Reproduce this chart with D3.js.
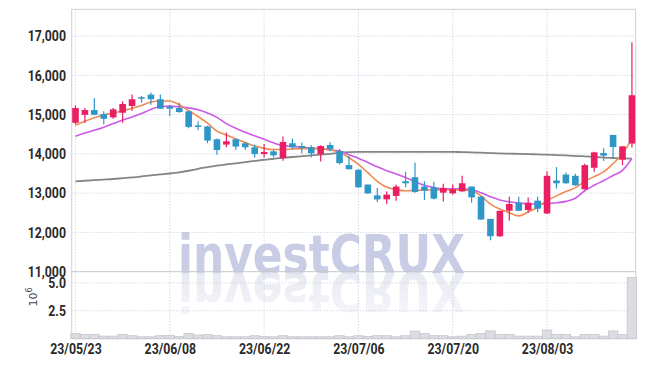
<!DOCTYPE html>
<html>
<head>
<meta charset="utf-8">
<script src="https://cdn.jsdelivr.net/npm/d3@7"></script>
<style>
  body { margin: 0; background: #fff; }
  svg text { font-family: Roboto, "DejaVu Sans", sans-serif; }
</style>
</head>
<body>
<div id="chart_div"></div>
<script>
// trading days (yy/mm/dd)
var dates = ['23/05/23','23/05/24','23/05/25','23/05/26','23/05/30','23/05/31','23/06/01','23/06/02','23/06/05','23/06/07',
             '23/06/08','23/06/09','23/06/12','23/06/13','23/06/14','23/06/15','23/06/16','23/06/19','23/06/20','23/06/21',
             '23/06/22','23/06/23','23/06/26','23/06/27','23/06/28','23/06/29','23/06/30','23/07/03','23/07/04','23/07/05',
             '23/07/06','23/07/07','23/07/10','23/07/11','23/07/12','23/07/13','23/07/14','23/07/17','23/07/18','23/07/19',
             '23/07/20','23/07/21','23/07/24','23/07/25','23/07/26','23/07/27','23/07/28','23/07/31','23/08/01','23/08/02',
             '23/08/03','23/08/04','23/08/07','23/08/08','23/08/09','23/08/10','23/08/11','23/08/14','23/08/16','23/08/17'];

var opens  = [14790,14995,15115,15013,14928,15046,15218,15441,15508,15390,
              15200,15167,15082,14723,14697,14372,14236,14372,14269,14167,
              13995,14064,13892,14269,14200,14167,13995,14226,14072,13713,
              13595,13218,12944,12841,12928,13303,13405,13167,13149,13013,
              12995,13046,13167,12910,12346,11903,12551,12757,12569,12808,
              12482,13321,13474,13441,13097,13646,14021,14482,13851,14262];
var highs  = [15236,15167,15423,15082,15167,15338,15508,15474,15559,15508,
              15251,15302,15097,14826,14718,14390,14544,14406,14303,14236,
              14251,14115,14441,14390,14287,14218,14218,14295,14123,13954,
              13610,13218,13133,13046,13218,13544,13782,13303,13287,13236,
              13218,13441,13167,12923,12346,12551,12910,12910,12892,12910,
              13559,13662,13526,13492,13749,14056,14141,14482,14192,16841];
var lows   = [14756,14790,14980,14756,14892,14790,15097,15302,15251,15149,
              14962,15046,14654,14603,14269,13980,14167,14097,14097,13910,
              13910,13910,13826,14115,14013,13910,13808,14064,13730,13603,
              13133,12980,12774,12723,12808,13149,13013,12826,12840,12790,
              12962,13031,12756,12320,11800,11885,12295,12551,12500,12518,
              12470,13115,13240,13190,13090,13544,13815,13885,13713,14159];
var closes = [15167,15115,14995,14892,15133,15269,15390,15405,15390,15149,
              15149,15064,14687,14687,14338,14097,14320,14185,14167,13995,
              14046,13962,14303,14167,14149,14013,14200,14115,13764,13610,
              13149,12995,12841,12962,13167,13251,13031,13064,12859,13133,
              13097,13251,12892,12328,11903,12551,12723,12551,12757,12603,
              13441,13251,13251,13200,13713,14038,13954,14174,14192,15492];
// volume in shares
var volumes = [0.47e6,0.37e6,0.37e6,0.23e6,0.23e6,0.37e6,0.27e6,0.17e6,0.17e6,0.27e6,
               0.30e6,0.20e6,0.47e6,0.33e6,0.37e6,0.27e6,0.17e6,0.17e6,0.17e6,0.27e6,
               0.20e6,0.17e6,0.27e6,0.17e6,0.17e6,0.17e6,0.17e6,0.17e6,0.27e6,0.17e6,
               0.27e6,0.20e6,0.27e6,0.27e6,0.17e6,0.27e6,0.68e6,0.47e6,0.27e6,0.27e6,
               0.17e6,0.23e6,0.37e6,0.47e6,0.70e6,0.37e6,0.37e6,0.23e6,0.23e6,0.23e6,
               0.78e6,0.37e6,0.37e6,0.17e6,0.37e6,0.37e6,0.23e6,0.70e6,0.37e6,5.48e6];

// moving averages as drawn
var ma5   = [14730,14830,14920,14990,15040,15100,15160,15230,15320,15346,
             15346,15250,15100,14950,14780,14580,14480,14380,14290,14200,
             14140,14110,14110,14125,14133,14133,14133,14100,14040,13900,
             13730,13520,13300,13150,13090,13060,13070,13080,13082,13082,
             13082,13082,13060,12930,12720,12595,12500,12420,12520,12640,
             12808,12930,13040,13140,13300,13420,13540,13750,14005,14390];
var ma20  = [14450,14530,14600,14680,14770,14860,14940,15030,15130,15205,
             15215,15200,15170,15125,15040,14930,14770,14650,14550,14460,
             14370,14280,14210,14190,14170,14150,14130,14100,14072,13980,
             13890,13780,13670,13570,13490,13400,13290,13200,13140,13108,
             13108,13108,13090,13010,12910,12826,12780,12745,12730,12723,
             12735,12755,12790,12870,13060,13200,13320,13450,13580,13880];
var ma120 = [13300,13315,13330,13345,13360,13380,13400,13425,13450,13475,
             13500,13530,13570,13620,13660,13700,13730,13760,13790,13820,
             13850,13875,13900,13920,13940,13960,13980,14000,14030,14045,
             14050,14050,14050,14050,14050,14050,14050,14050,14050,14050,
             14050,14045,14040,14030,14020,14010,14005,14000,13995,13985,
             13980,13970,13960,13950,13935,13920,13905,13895,13885,13880];

var priceTicks  = [11000,12000,13000,14000,15000,16000,17000];
var volumeTicks = [2.5e6,5e6];
var dateTicks   = ['23/05/23','23/06/08','23/06/22','23/07/06','23/07/20','23/08/03'];

var width = 645, height = 366;
var plotLeft = 71.7, plotRight = 635.7, plotTop = 9.3, priceBottom = 271.7, volBottom = 338.7;
var upColor = '#e91e63', downColor = '#2f96c8';
var gridColor = '#c3c7dc';

var svg = d3.select('#chart_div')
        .append('svg')
        .attr('id', 'main_svg')
        .attr('width', width)
        .attr('height', height);

var x = d3.scalePoint().domain(dates).range([plotLeft, plotRight]).padding(0.4);
var step = x.step();
var y = d3.scaleLinear().domain([11000, 17680]).range([priceBottom, plotTop]);
var yv = d3.scaleLinear().domain([0, 6e6]).range([volBottom, priceBottom]);

var defs = svg.append('defs');
var grad = defs.append('linearGradient')
        .attr('id', 'reflect')
        .attr('x1', 0).attr('y1', 0).attr('x2', 0).attr('y2', 1);
grad.append('stop').attr('offset', '0%').attr('stop-color', '#e3e5ef').attr('stop-opacity', 0.25);
grad.append('stop').attr('offset', '100%').attr('stop-color', '#e3e5ef').attr('stop-opacity', 1);

// watermark + reflection
svg.append('text')
        .attr('x', 178).attr('y', priceBottom + 1)
        .attr('textLength', 287).attr('lengthAdjust', 'spacingAndGlyphs')
        .style('font-family', '"DejaVu Sans", sans-serif')
        .style('font-weight', 'bold')
        .style('font-size', '54px')
        .style('fill', '#c8cde5')
        .text('investCRUX');
svg.append('text')
        .attr('x', 178).attr('y', priceBottom + 1)
        .attr('textLength', 287).attr('lengthAdjust', 'spacingAndGlyphs')
        .attr('transform', 'translate(0,' + (2 * (priceBottom + 1)) + ') scale(1,-1)')
        .style('font-family', '"DejaVu Sans", sans-serif')
        .style('font-weight', 'bold')
        .style('font-size', '54px')
        .style('fill', 'url(#reflect)')
        .text('investCRUX');

// grid
svg.append('g').selectAll('line')
        .data(priceTicks.slice(1))
        .enter().append('line')
        .attr('x1', plotLeft).attr('x2', plotRight)
        .attr('y1', function(d) { return y(d); })
        .attr('y2', function(d) { return y(d); })
        .style('stroke', gridColor)
        .style('stroke-dasharray', '1,2');
svg.append('g').selectAll('line')
        .data(volumeTicks)
        .enter().append('line')
        .attr('x1', plotLeft).attr('x2', plotRight)
        .attr('y1', function(d) { return yv(d); })
        .attr('y2', function(d) { return yv(d); })
        .style('stroke', gridColor)
        .style('stroke-dasharray', '1,2');
svg.append('g').selectAll('line')
        .data(dateTicks)
        .enter().append('line')
        .attr('x1', function(d) { return x(d); })
        .attr('x2', function(d) { return x(d); })
        .attr('y1', plotTop).attr('y2', volBottom)
        .style('stroke', gridColor)
        .style('stroke-dasharray', '1,2');

// frame
svg.append('rect')
        .attr('x', plotLeft).attr('y', plotTop)
        .attr('width', plotRight - plotLeft).attr('height', volBottom - plotTop)
        .style('fill', 'none')
        .style('stroke', '#d0d0d4');
svg.append('line')
        .attr('x1', plotLeft).attr('x2', plotRight)
        .attr('y1', priceBottom).attr('y2', priceBottom)
        .style('stroke', '#c8c8cc');

// volume bars
svg.append('g').selectAll('rect')
        .data(dates)
        .enter().append('rect')
        .attr('x', function(d) { return x(d) - step / 2; })
        .attr('width', step)
        .attr('y', function(d, i) { return yv(volumes[i]); })
        .attr('height', function(d, i) { return volBottom - yv(volumes[i]); })
        .style('fill', '#dcdce3')
        .style('stroke', '#c6c6ce')
        .style('stroke-width', 0.8);

// moving averages
function drawLine(values, color, w) {
        var line = d3.line()
                .x(function(d, i) { return x(dates[i]); })
                .y(function(d) { return y(d); })
                .curve(d3.curveMonotoneX);
        svg.append('path')
                .datum(values)
                .attr('d', line)
                .style('fill', 'none')
                .style('stroke', color)
                .style('stroke-width', w);
}
drawLine(ma120, '#858585', 1.8);
drawLine(ma20, '#cc5ae6', 1.6);
drawLine(ma5, '#f08a52', 1.6);

// candles
var candle = svg.append('g').selectAll('g')
        .data(dates)
        .enter().append('g');
candle.append('line')
        .attr('x1', function(d) { return x(d); })
        .attr('x2', function(d) { return x(d); })
        .attr('y1', function(d, i) { return y(highs[i]); })
        .attr('y2', function(d, i) { return y(lows[i]); })
        .style('stroke', function(d, i) { return closes[i] >= opens[i] ? upColor : downColor; })
        .style('stroke-width', 1.2);
candle.append('rect')
        .attr('x', function(d) { return x(d) - 3.3; })
        .attr('width', 6.6)
        .attr('y', function(d, i) { return y(Math.max(opens[i], closes[i])); })
        .attr('height', function(d, i) { return Math.max(1.5, Math.abs(y(opens[i]) - y(closes[i]))); })
        .style('fill', function(d, i) { return closes[i] >= opens[i] ? upColor : downColor; });

// axes
var yAxis = d3.axisLeft(y).tickValues(priceTicks).tickSize(0).tickPadding(7)
        .tickFormat(d3.format(','));
svg.append('g')
        .attr('transform', 'translate(' + plotLeft + ',0)')
        .call(yAxis)
        .call(function(g) { g.select('.domain').remove(); });

var vAxis = d3.axisLeft(yv).tickValues(volumeTicks).tickSize(0).tickPadding(7)
        .tickFormat(function(d) { return (d / 1e6).toFixed(1); });
svg.append('g')
        .attr('transform', 'translate(' + plotLeft + ',0)')
        .call(vAxis)
        .call(function(g) { g.select('.domain').remove(); });

var xAxis = d3.axisBottom(x).tickValues(dateTicks).tickSize(0).tickPadding(5);
svg.append('g')
        .attr('transform', 'translate(0,' + volBottom + ')')
        .call(xAxis)
        .call(function(g) { g.select('.domain').remove(); });

// narrow bold tick labels
svg.selectAll('.tick text')
        .attr('transform', 'scale(0.82,1)')
        .style('font-size', '15px')
        .style('font-weight', 'bold')
        .style('fill', '#2a2a2a');

// 10^6 unit label
var unit = svg.append('text')
        .attr('transform', 'translate(37,297) rotate(-90)')
        .attr('text-anchor', 'middle')
        .style('font-family', '"DejaVu Sans", sans-serif')
        .style('font-size', '11px')
        .style('fill', '#444');
unit.append('tspan').text('10');
unit.append('tspan').attr('dy', -5).style('font-size', '8px').text('6');
</script>
</body>
</html>
